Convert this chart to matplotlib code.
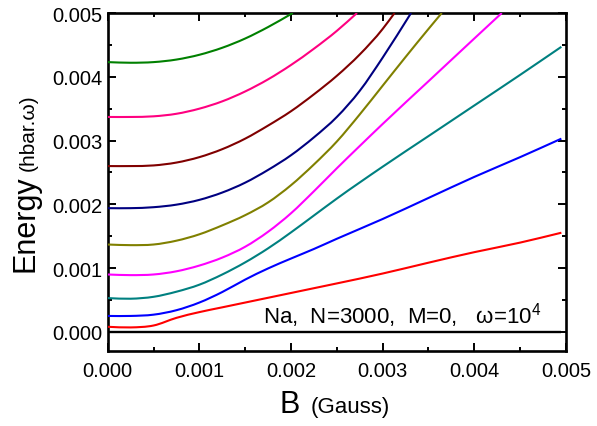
import numpy as np
import matplotlib
matplotlib.use("Agg")
import matplotlib.pyplot as plt
from matplotlib.path import Path
from matplotlib.patches import PathPatch
from matplotlib.ticker import MultipleLocator, FormatStrFormatter

plt.rcParams['font.family'] = ['Liberation Sans', 'DejaVu Sans']
plt.rcParams['mathtext.fontset'] = 'custom'
plt.rcParams['mathtext.rm'] = 'Liberation Sans'
plt.rcParams['mathtext.default'] = 'regular'

# Magnetic field B in units of 1e-3 Gauss, energy in units of 1e-3 hbar.omega
B_green = [0, 0.25, 0.5, 0.75, 1.0, 1.25, 1.5, 1.75, 2.02]
E_green = [4.23, 4.22, 4.23, 4.27, 4.345, 4.455, 4.60, 4.78, 5.0]

B_pink = [0, 0.25, 0.5, 0.75, 1.0, 1.25, 1.5, 1.75, 2.0, 2.25, 2.5, 2.72]
E_pink = [3.37, 3.37, 3.38, 3.42, 3.50, 3.615, 3.77, 3.96, 4.185, 4.44, 4.72, 5.0]

B_brown = [0, 0.25, 0.5, 0.75, 1.0, 1.25, 1.5, 1.75, 2.0, 2.25, 2.5, 2.75, 3.0, 3.13]
E_brown = [2.60, 2.60, 2.61, 2.655, 2.74, 2.865, 3.03, 3.235, 3.46, 3.725, 4.015, 4.35, 4.75, 5.0]

B_navy = [0, 0.25, 0.5, 0.75, 1.0, 1.25, 1.5, 1.75, 2.0, 2.25, 2.5, 2.75, 3.0, 3.31]
E_navy = [1.94, 1.94, 1.955, 1.995, 2.07, 2.185, 2.34, 2.54, 2.77, 3.05, 3.37, 3.78, 4.30, 5.0]

B_olive = [0, 0.25, 0.5, 0.75, 1.0, 1.25, 1.5, 1.75, 2.0, 2.25, 2.5, 2.75, 3.0, 3.25, 3.5, 3.645]
E_olive = [1.37, 1.36, 1.37, 1.43, 1.53, 1.67, 1.83, 2.03, 2.30, 2.625, 2.985, 3.41, 3.86, 4.31, 4.75, 5.0]

B_magenta = [0, 0.25, 0.5, 0.75, 1.0, 1.25, 1.5, 1.75, 2.0, 2.25, 2.5, 2.75, 3.0, 3.5, 4.0, 4.30]
E_magenta = [0.90, 0.89, 0.90, 0.95, 1.04, 1.165, 1.335, 1.57, 1.86, 2.205, 2.565, 2.915, 3.26, 3.93, 4.60, 5.0]

B_teal = [0, 0.25, 0.5, 0.75, 1.0, 1.25, 1.5, 1.75, 2.0, 2.25, 2.5, 3.0, 3.5, 4.0, 4.5, 4.95]
E_teal = [0.53, 0.52, 0.55, 0.63, 0.74, 0.90, 1.09, 1.31, 1.56, 1.825, 2.09, 2.59, 3.07, 3.55, 4.03, 4.47]

B_blue = [0, 0.25, 0.5, 0.75, 1.0, 1.25, 1.5, 1.75, 2.0, 2.25, 2.5, 3.0, 3.5, 4.0, 4.5, 4.95]
E_blue = [0.25, 0.25, 0.27, 0.34, 0.46, 0.625, 0.82, 0.995, 1.15, 1.30, 1.46, 1.77, 2.10, 2.43, 2.74, 3.03]

B_red = [0, 0.25, 0.5, 0.75, 1.0, 1.25, 1.5, 1.75, 2.0, 2.25, 2.5, 3.0, 3.5, 4.0, 4.5, 4.95]
E_red = [0.08, 0.07, 0.10, 0.22, 0.31, 0.385, 0.46, 0.535, 0.61, 0.685, 0.76, 0.915, 1.085, 1.25, 1.40, 1.555]

levels = [
    (B_green, E_green, '#008000'),
    (B_pink, E_pink, '#FF0080'),
    (B_brown, E_brown, '#800000'),
    (B_navy, E_navy, '#000080'),
    (B_olive, E_olive, '#808000'),
    (B_magenta, E_magenta, '#FF00FF'),
    (B_teal, E_teal, '#008080'),
    (B_blue, E_blue, '#0000FF'),
    (B_red, E_red, '#FF0000'),
]

x_ticks = [0.000, 0.001, 0.002, 0.003, 0.004, 0.005]
y_ticks = [0.000, 0.001, 0.002, 0.003, 0.004, 0.005]
scale = 1e-3


def smooth_path(x, y):
    """Cubic Bezier path passing through every (x, y) node, with tangents
    from the neighbouring chords, so the level is drawn as a smooth curve."""
    x = np.asarray(x, float)
    y = np.asarray(y, float)
    h = np.diff(x)
    d = np.diff(y) / h
    m = np.empty_like(y)
    m[0], m[-1] = d[0], d[-1]
    m[1:-1] = (h[:-1] * d[1:] + h[1:] * d[:-1]) / (h[:-1] + h[1:])
    verts = [(x[0], y[0])]
    codes = [Path.MOVETO]
    for i in range(len(h)):
        verts += [(x[i] + h[i] / 3, y[i] + m[i] * h[i] / 3),
                  (x[i + 1] - h[i] / 3, y[i + 1] - m[i + 1] * h[i] / 3),
                  (x[i + 1], y[i + 1])]
        codes += [Path.CURVE4] * 3
    return Path(verts, codes)


fig = plt.figure(figsize=(5.97, 4.27), dpi=100)
ax = fig.add_axes([0.1804, 0.1756, 0.7676, 0.7916])

# zero-energy reference line
ax.plot([B_red[0] * scale, B_red[-1] * scale], [0, 0], color='black', lw=1.7,
        solid_capstyle='butt', zorder=2)

for B, E, c in levels:
    path = smooth_path(np.array(B) * scale, np.array(E) * scale)
    ax.add_patch(PathPatch(path, facecolor='none', edgecolor=c, lw=1.5,
                           capstyle='butt', joinstyle='round', zorder=3,
                           transform=ax.transData))

ax.set_xlim(x_ticks[0], x_ticks[-1])
ax.set_ylim(-0.0003, y_ticks[-1])
ax.set_xticks(x_ticks)
ax.set_yticks(y_ticks)
ax.xaxis.set_minor_locator(MultipleLocator(0.0005))
ax.yaxis.set_minor_locator(MultipleLocator(0.0005))
ax.xaxis.set_major_formatter(FormatStrFormatter('%.3f'))
ax.yaxis.set_major_formatter(FormatStrFormatter('%.3f'))

ax.tick_params(which='both', direction='in', top=True, right=True, width=1.4,
               labelsize=14.5)
ax.tick_params(which='major', length=5.5)
ax.tick_params(which='minor', length=3.2)
ax.tick_params(axis='x', which='major', pad=7)
ax.tick_params(axis='y', which='major', pad=4)
for s in ax.spines.values():
    s.set_linewidth(1.9)

ax.text(0.339, 0.083, 'Na,  N=3000,  M=0,   ω=$10^4$', transform=ax.transAxes,
        fontsize=16, ha='left', va='baseline')

# axis titles, each made of a large symbol and a smaller unit
fig.text(280 / 597, 1 - 413 / 427, 'B', fontsize=22, ha='left', va='baseline')
fig.text(311 / 597, 1 - 413 / 427, '(Gauss)', fontsize=16, ha='left', va='baseline')
fig.text(33.5 / 597, 1 - 272 / 427, 'Energy', fontsize=22, rotation=90,
         rotation_mode='anchor', ha='left', va='baseline')
fig.text(34 / 597, 1 - 171 / 427, '(hbar.ω)', fontsize=15, rotation=90,
         rotation_mode='anchor', ha='left', va='baseline')

fig.savefig('out.png', dpi=100)
